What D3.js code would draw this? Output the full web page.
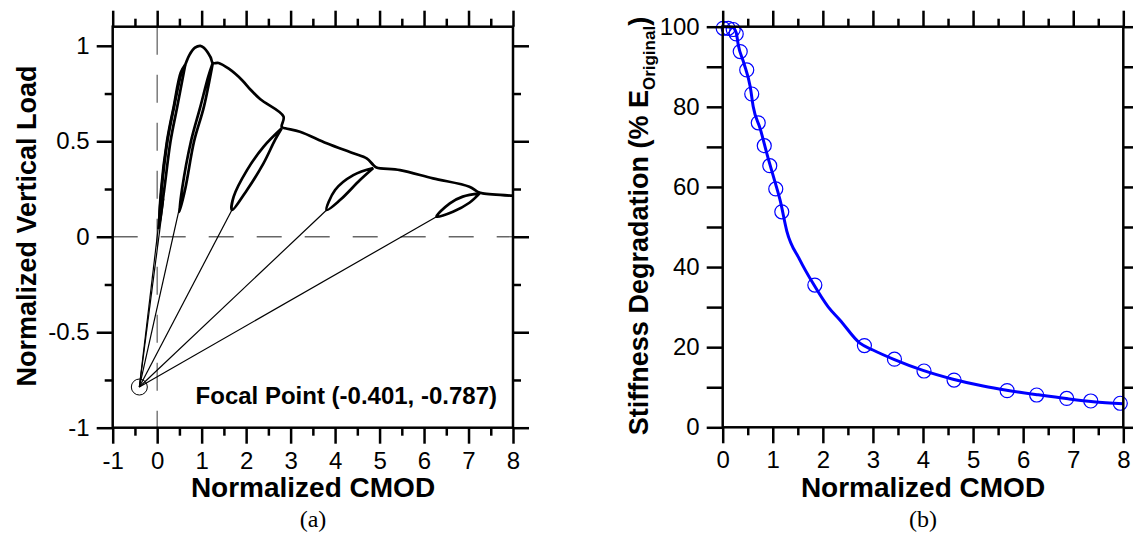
<!DOCTYPE html>
<html>
<head>
<meta charset="utf-8">
<script src="https://cdnjs.cloudflare.com/ajax/libs/d3/7.8.5/d3.min.js"></script>
<style>
  body { margin: 0; background: #fff; }
  text { font-family: "Liberation Sans", Arial, sans-serif; fill: #000; }
</style>
</head>
<body>
<div id="chart"></div>
<script>
var width = 1133, height = 539;

// ---- (a) load vs CMOD ----
var xTicksA = [-1, 0, 1, 2, 3, 4, 5, 6, 7, 8];
var yTicksA = [-1, -0.5, 0, 0.5, 1];
var focalPoint = [-0.401, -0.787];
var focalLabel = "Focal Point (-0.401, -0.787)";

// envelope of the cyclic test (x = CMOD, y = load)
var envelope = [[0.03, 0.04], [0.10, 0.25], [0.23, 0.50], [0.38, 0.68], [0.55, 0.86], [0.63, 0.90],
  [0.72, 0.95], [0.85, 0.99], [0.97, 1.00], [1.05, 0.99], [1.20, 0.94], [1.25, 0.91], [1.38, 0.91],
  [1.61, 0.88], [1.91, 0.82], [2.10, 0.77], [2.32, 0.72], [2.84, 0.63], [2.80, 0.575], [2.88, 0.568],
  [3.21, 0.55], [3.81, 0.49], [4.41, 0.437], [4.71, 0.41], [4.86, 0.376], [4.93, 0.363], [5.46, 0.349],
  [6.20, 0.306], [7.02, 0.262], [7.21, 0.235], [7.32, 0.227], [8.00, 0.215]];

// unload / reload loops
var loop1 = [[0.63, 0.90], [0.45, 0.68], [0.30, 0.50], [0.16, 0.25], [0.05, 0.07], [0.09, 0.25], [0.22, 0.50], [0.37, 0.68], [0.53, 0.86], [0.63, 0.90]];
var loop2 = [[1.25, 0.91], [1.05, 0.68], [0.83, 0.50], [0.63, 0.25], [0.50, 0.13], [0.56, 0.25], [0.76, 0.50], [0.97, 0.68], [1.15, 0.84], [1.25, 0.91]];
var loop3 = [[2.80, 0.568], [2.65, 0.507], [2.39, 0.384], [2.02, 0.245], [1.68, 0.14], [1.72, 0.21], [2.02, 0.349], [2.39, 0.471], [2.80, 0.568]];
var loop4 = [[4.86, 0.36], [4.56, 0.297], [4.11, 0.192], [3.81, 0.14], [4.00, 0.245], [4.41, 0.323], [4.86, 0.36]];
var loop5 = [[7.25, 0.227], [7.02, 0.178], [6.65, 0.131], [6.28, 0.105], [6.58, 0.175], [6.87, 0.21], [7.25, 0.227]];

// lines from the focal point to the unloading points
var focalTargets = [[0.04, 0.08], [0.15, 0.20], [0.50, 0.15], [1.68, 0.14], [3.81, 0.14], [6.28, 0.105]];

// ---- (b) stiffness degradation ----
var xTicksB = [0, 1, 2, 3, 4, 5, 6, 7, 8];
var yTicksB = [0, 20, 40, 60, 80, 100];
var stiffLine = [[0, 100], [0.20, 99.8], [0.27, 98.5], [0.31, 95.5], [0.42, 91], [0.55, 85], [0.61, 80],
  [0.75, 74.5], [0.90, 67.5], [1.05, 61], [1.15, 56.5], [1.28, 49], [1.54, 41.8], [1.80, 36],
  [2.11, 30], [2.34, 26.8], [2.74, 21], [3.00, 19.3], [3.43, 16.9], [4.00, 14.2], [4.60, 12],
  [5.20, 10.3], [5.70, 9.2], [6.30, 8.1], [6.90, 7.1], [7.40, 6.4], [8.00, 5.9]];
var stiffPoints = [[0.01, 99.6], [0.11, 99.6], [0.21, 99.3], [0.27, 98.2], [0.35, 93.8], [0.48, 89.2],
  [0.58, 83.2], [0.71, 76.0], [0.83, 70.3], [0.94, 65.3], [1.06, 59.5], [1.18, 53.8], [1.84, 35.5],
  [2.83, 20.4], [3.43, 17.0], [4.02, 14.05], [4.62, 11.8], [5.68, 9.15], [6.27, 8.06], [6.87, 7.2],
  [7.35, 6.57], [7.94, 6.0]];

var svg = d3.select("#chart").append("svg")
  .attr("width", width)
  .attr("height", height);

var tickFont = "24px", titleFont = "27px";
var fmt = function (d) { return String(d); };

function frameAxes(g, x, y, o) {
  // major + minor ticks on all four sides, pointing outwards
  var x0 = x.range()[0], x1 = x.range()[1], y0 = y.range()[0], y1 = y.range()[1];

  g.append("g").attr("transform", "translate(0," + y0 + ")")
    .call(d3.axisBottom(x).tickValues(o.xMajor).tickSize(16).tickPadding(8).tickFormat(fmt));
  g.append("g").attr("transform", "translate(0," + y0 + ")")
    .call(d3.axisBottom(x).tickValues(o.xMinor).tickSize(8).tickFormat(""));
  g.append("g").attr("transform", "translate(0," + y1 + ")")
    .call(d3.axisTop(x).tickValues(o.xMajor).tickSize(16).tickFormat(""));
  g.append("g").attr("transform", "translate(0," + y1 + ")")
    .call(d3.axisTop(x).tickValues(o.xMinor).tickSize(8).tickFormat(""));

  g.append("g").attr("transform", "translate(" + x0 + ",0)")
    .call(d3.axisLeft(y).tickValues(o.yMajor).tickSize(16).tickPadding(7).tickFormat(fmt));
  g.append("g").attr("transform", "translate(" + x0 + ",0)")
    .call(d3.axisLeft(y).tickValues(o.yMinor).tickSize(o.yMinorSize).tickFormat(""));
  g.append("g").attr("transform", "translate(" + x1 + ",0)")
    .call(d3.axisRight(y).tickValues(o.yMajor).tickSize(16).tickFormat(""));
  g.append("g").attr("transform", "translate(" + x1 + ",0)")
    .call(d3.axisRight(y).tickValues(o.yMinor).tickSize(o.yMinorSize).tickFormat(""));

  g.selectAll(".domain").remove();
  g.selectAll(".tick line").attr("stroke", "#000").attr("stroke-width", 2.5);
  g.selectAll(".tick text")
    .style("font-family", "'Liberation Sans', Arial, sans-serif")
    .style("font-size", tickFont)
    .attr("fill", "#000");

  g.append("rect")
    .attr("x", x0).attr("y", y1)
    .attr("width", x1 - x0).attr("height", y0 - y1)
    .attr("fill", "none").attr("stroke", "#000").attr("stroke-width", 2.5);
}

// ================= panel (a) =================
var xA = d3.scaleLinear().domain([-1, 8]).range([112.7, 513]);
var yA = d3.scaleLinear().domain([-1, 1.1]).range([427.7, 26.7]);
var gA = svg.append("g");

// dashed zero lines
gA.append("line")
  .attr("x1", xA(0)).attr("x2", xA(0)).attr("y1", yA(1.1)).attr("y2", yA(-1))
  .attr("stroke", "#666").attr("stroke-width", 1.3).attr("stroke-dasharray", "28,20");
gA.append("line")
  .attr("x1", xA(-1)).attr("x2", xA(8)).attr("y1", yA(0)).attr("y2", yA(0))
  .attr("stroke", "#666").attr("stroke-width", 1.3).attr("stroke-dasharray", "25,23");

// focal lines
gA.selectAll(".focal")
  .data(focalTargets)
  .enter().append("line")
  .attr("class", "focal")
  .attr("x1", xA(focalPoint[0])).attr("y1", yA(focalPoint[1]))
  .attr("x2", function (d) { return xA(d[0]); })
  .attr("y2", function (d) { return yA(d[1]); })
  .attr("stroke", "#000").attr("stroke-width", 1.2);

var lineA = d3.line()
  .x(function (d) { return xA(d[0]); })
  .y(function (d) { return yA(d[1]); })
  .curve(d3.curveCatmullRom.alpha(0.5));

gA.selectAll(".loop")
  .data([loop1, loop2, loop3, loop4, loop5])
  .enter().append("path")
  .attr("class", "loop")
  .attr("d", lineA)
  .attr("fill", "none").attr("stroke", "#000").attr("stroke-width", 2.7);

gA.append("path")
  .datum(envelope)
  .attr("d", lineA)
  .attr("fill", "none").attr("stroke", "#000").attr("stroke-width", 2.7)
  .attr("stroke-linejoin", "round");

gA.append("circle")
  .attr("cx", xA(focalPoint[0])).attr("cy", yA(focalPoint[1])).attr("r", 8)
  .attr("fill", "none").attr("stroke", "#000").attr("stroke-width", 1);

gA.append("text")
  .attr("x", 497).attr("y", 404)
  .attr("text-anchor", "end")
  .style("font-weight", "bold").style("font-size", "24px")
  .text(focalLabel);

frameAxes(gA, xA, yA, {
  xMajor: xTicksA, xMinor: d3.range(-0.5, 8, 1),
  yMajor: yTicksA, yMinor: [-0.75, -0.25, 0.25, 0.75], yMinorSize: 8
});

gA.append("text")
  .attr("x", 313).attr("y", 497)
  .attr("text-anchor", "middle")
  .style("font-weight", "bold").style("font-size", "28px")
  .text("Normalized CMOD");

gA.append("text")
  .attr("transform", "translate(36,226) rotate(-90)")
  .attr("text-anchor", "middle")
  .style("font-weight", "bold").style("font-size", titleFont)
  .text("Normalized Vertical Load");

gA.append("text")
  .attr("x", 313).attr("y", 527)
  .attr("text-anchor", "middle")
  .style("font-family", "'Liberation Serif', 'Times New Roman', serif").style("font-size", "24px")
  .text("(a)");

// ================= panel (b) =================
var xB = d3.scaleLinear().domain([0, 8]).range([722.7, 1123.3]);
var yB = d3.scaleLinear().domain([0, 100]).range([427.3, 26.7]);
var gB = svg.append("g");

var lineB = d3.line()
  .x(function (d) { return xB(d[0]); })
  .y(function (d) { return yB(d[1]); })
  .curve(d3.curveMonotoneX);

gB.append("path")
  .datum(stiffLine)
  .attr("d", lineB)
  .attr("fill", "none").attr("stroke", "#0000ff").attr("stroke-width", 3);

gB.selectAll(".pt")
  .data(stiffPoints)
  .enter().append("circle")
  .attr("class", "pt")
  .attr("cx", function (d) { return xB(d[0]); })
  .attr("cy", function (d) { return yB(d[1]); })
  .attr("r", 7)
  .attr("fill", "none").attr("stroke", "#0000ff").attr("stroke-width", 1.2);

frameAxes(gB, xB, yB, {
  xMajor: xTicksB, xMinor: d3.range(0.5, 8, 1),
  yMajor: yTicksB, yMinor: [10, 30, 50, 70, 90], yMinorSize: 16
});

gB.append("text")
  .attr("x", 923).attr("y", 497)
  .attr("text-anchor", "middle")
  .style("font-weight", "bold").style("font-size", "28px")
  .text("Normalized CMOD");

var yTitle = gB.append("text")
  .attr("transform", "translate(648,226) rotate(-90)")
  .attr("text-anchor", "middle")
  .style("font-weight", "bold").style("font-size", titleFont);
yTitle.append("tspan").text("Stiffness Degradation (% E");
yTitle.append("tspan").attr("dy", 7).style("font-size", "17px").text("Original");
yTitle.append("tspan").attr("dy", -7).text(")");

gB.append("text")
  .attr("x", 923).attr("y", 527)
  .attr("text-anchor", "middle")
  .style("font-family", "'Liberation Serif', 'Times New Roman', serif").style("font-size", "24px")
  .text("(b)");
</script>
</body>
</html>
